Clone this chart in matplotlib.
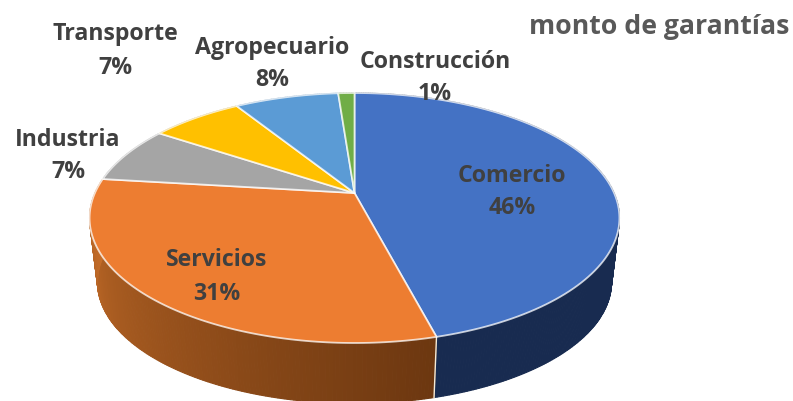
import matplotlib

matplotlib.use("Agg")
import matplotlib.pyplot as plt
import numpy as np
from matplotlib.colors import to_rgb

plt.rcParams["font.family"] = ["Open Sans", "DejaVu Sans"]

categories = ["Comercio", "Servicios", "Industria", "Transporte", "Agropecuario", "Construcción"]
shares = [45.9, 31.0, 7.4, 6.8, 7.7, 1.2]
colors = ["#4472c4", "#ed7d31", "#a5a5a5", "#ffc000", "#5b9bd5", "#70ad47"]
side_left = ["#182b50", "#ca702a", "#777777", "#b88a00", "#3f76a8", "#4f7c32"]
side_right = ["#182b50", "#6c3710", "#777777", "#b88a00", "#3f76a8", "#4f7c32"]
label_pos = [(512, 192), (217, 277), (68, 156), (115, 51), (272, 64), (435, 78)]

CENTER_X = 354.5
CENTER_Y = 193
RADIUS_X = 259.6
RADIUS_Y = 120
PERSPECTIVE = 0.2
DEPTH = 65
BOTTOM_SCALE = 0.97


def project(theta, scale=1.0, shift=0.0):
    """Angle clockwise from 12 o'clock to picture coordinates"""
    u, v = np.sin(theta), np.cos(theta)
    den = 1 + PERSPECTIVE * v
    return CENTER_X + scale * RADIUS_X * u / den, CENTER_Y + shift - scale * RADIUS_Y * v / den


def mix(c1, c2, t):
    a, b = np.array(to_rgb(c1)), np.array(to_rgb(c2))
    return tuple(a + (b - a) * t)


fig = plt.figure(figsize=(7.93, 4.01), dpi=100)
ax = fig.add_axes([0, 0, 1, 1])
ax.set_xlim(0, 793)
ax.set_ylim(401, 0)
ax.axis("off")

edges = np.radians(np.concatenate([[0], np.cumsum(shares)]) * 3.6)

# side wall first, the top face covers what is hidden
for i in range(len(shares)):
    steps = np.linspace(edges[i], edges[i + 1], max(int(shares[i] * 6), 4))
    tx, ty = project(steps)
    bx, by = project(steps, BOTTOM_SCALE, DEPTH)
    for j in range(len(steps) - 1):
        t = (steps[j] - edges[i]) / (edges[i + 1] - edges[i])
        # the orange wall runs from dark (front) to light (left)
        c = mix(side_right[i], side_left[i], t)
        ax.fill(
            [tx[j], tx[j + 1], bx[j + 1], bx[j]],
            [ty[j], ty[j + 1], by[j + 1], by[j]],
            color=c,
            lw=0.8,
            zorder=1,
        )

# seam between the two front walls
sx, sy = project(edges[1])
ex, ey = project(edges[1], BOTTOM_SCALE, DEPTH)
ax.plot([sx, ex], [sy, ey], color="#f4ead8", lw=1.0, zorder=2)

# top face
for i in range(len(shares)):
    steps = np.linspace(edges[i], edges[i + 1], 120)
    x, y = project(steps)
    ax.fill(
        np.concatenate([[CENTER_X], x]),
        np.concatenate([[CENTER_Y], y]),
        facecolor=colors[i],
        edgecolor=(1, 1, 1, 0.75),
        lw=1.3,
        joinstyle="round",
        zorder=3,
    )

for name, share, (x, y) in zip(categories, shares, label_pos):
    ax.text(
        x,
        y,
        f"{name}\n{share:.0f}%",
        ha="center",
        va="center",
        fontsize=16.7,
        fontweight="bold",
        color="#404040",
        linespacing=1.5,
        zorder=5,
    )

ax.text(659.5, 27, "monto de garantías", ha="center", va="center", fontsize=19.2, fontweight="bold", color="#595959")

fig.savefig("out.png", dpi=100)
plt.close(fig)
